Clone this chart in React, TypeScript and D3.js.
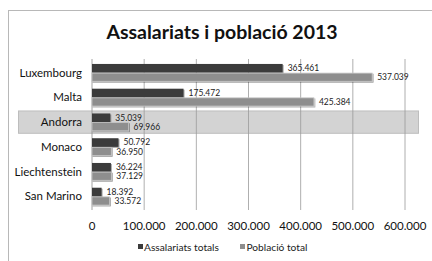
import React from "react";
import * as d3 from "d3";

const categories = ["Luxembourg", "Malta", "Andorra", "Monaco", "Liechtenstein", "San Marino"];
const assalariats = [365461, 175472, 35039, 50792, 36224, 18392];
const poblacio = [537039, 425384, 69966, 36950, 37129, 33572];
const ticks = [0, 100000, 200000, 300000, 400000, 500000, 600000];
const seriesNames = ["Assalariats totals", "Població total"];
const highlighted = "Andorra";

const fmt = (v: number) => d3.format(",")(v).replace(/,/g, ".");

export default function App() {
  const W = 432, H = 261;
  const x = d3.scaleLinear().domain([0, 600000]).range([92, 405]);
  const y = d3.scaleBand().domain(categories).range([59, 210]).paddingInner(0.3).paddingOuter(0.2);
  const bh = y.bandwidth() / 2;
  const font = "Lato, 'Open Sans', sans-serif";
  return (
    <svg width={W} height={H} style={{ position: "absolute", left: 0, top: 0 }}>
      <defs>
        <filter id="sh" x="-5%" y="-20%" width="120%" height="160%">
          <feDropShadow dx="1" dy="1" stdDeviation="0.6" floodColor="#000" floodOpacity="0.35" />
        </filter>
      </defs>
      <rect x={0} y={0} width={W} height={H} fill="#fff" />
      <rect x={8.5} y={10.5} width={430} height={255} fill="#fff" stroke="#b8b8b8" />
      <text x={222} y={38.5} textAnchor="middle" fontFamily={font} fontWeight="bold" fontSize={19.5} fill="#111">
        Assalariats i població 2013
      </text>
      <rect x={18.5} y={(y(highlighted) as number) - 3 + 0.5} width={400} height={y.bandwidth() + 5} fill="#d3d3d3" stroke="#bdbdbd" />
      {ticks.slice(1).map((t) => (
        <line key={t} x1={x(t)} x2={x(t)} y1={59} y2={210} stroke="#9a9a9a" strokeWidth={0.8} />
      ))}
      <line x1={x(0)} x2={x(0)} y1={59} y2={210} stroke="#8a8a8a" strokeWidth={0.8} />
      {categories.map((c, i) => {
        const y0 = y(c) as number;
        return (
          <g key={c}>
            <text x={82} y={y0 + bh + 4} textAnchor="end" fontFamily={font} fontSize={11.5} fill="#111">{c}</text>
            <rect x={x(0)} y={y0} width={x(assalariats[i]) - x(0)} height={bh} fill="#3b3b3b" filter="url(#sh)" />
            <rect x={x(0)} y={y0 + bh + 0.5} width={x(poblacio[i]) - x(0)} height={bh - 0.5} fill="#8e8e8e" stroke="#c4c4c4" strokeWidth={0.8} filter="url(#sh)" />
            <text x={x(assalariats[i]) + 5} y={y0 + bh - 1.5} fontFamily={font} fontSize={8.5} fill="#222">{fmt(assalariats[i])}</text>
            <text x={x(poblacio[i]) + 5} y={y0 + 2 * bh - 1} fontFamily={font} fontSize={8.5} fill="#222">{fmt(poblacio[i])}</text>
          </g>
        );
      })}
      {ticks.map((t) => (
        <text key={t} x={x(t)} y={230} textAnchor="middle" fontFamily={font} fontSize={11.5} fill="#111">{fmt(t)}</text>
      ))}
      <rect x={138} y={244} width={5} height={5} fill="#3b3b3b" />
      <text x={144} y={251} fontFamily={font} fontSize={10.2} fill="#222">{seriesNames[0]}</text>
      <rect x={240} y={244} width={5} height={5} fill="#8e8e8e" />
      <text x={246.5} y={251} fontFamily={font} fontSize={10.2} fill="#222">{seriesNames[1]}</text>
    </svg>
  );
}
